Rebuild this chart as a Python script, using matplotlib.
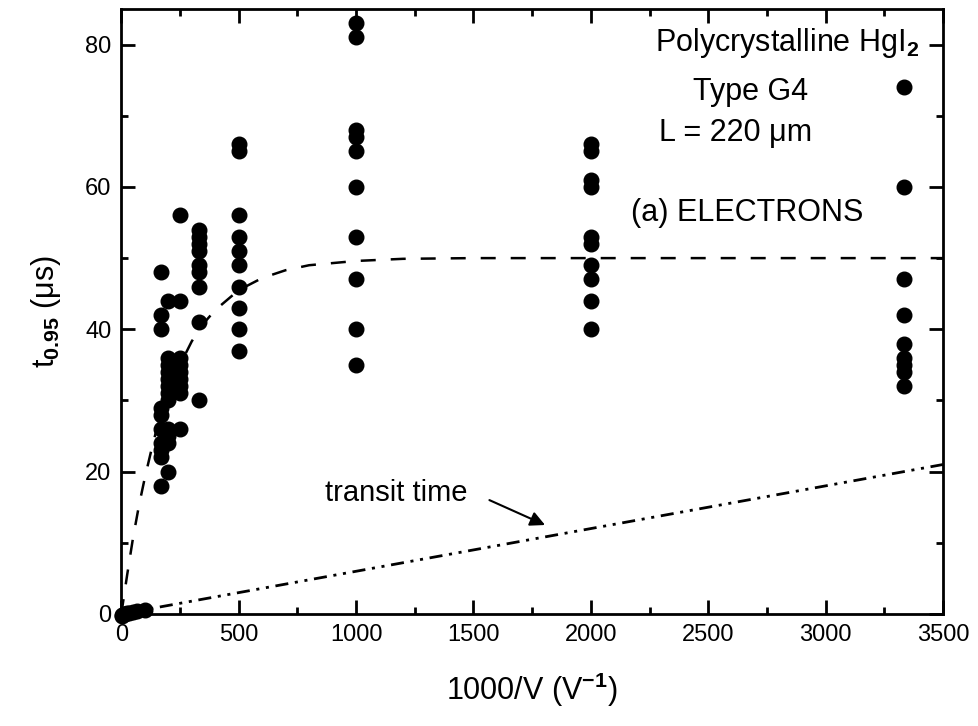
import numpy as np
import matplotlib
matplotlib.use('Agg')
import matplotlib.pyplot as plt
from matplotlib.ticker import MultipleLocator

plt.rcParams['font.family'] = ['Liberation Sans', 'DejaVu Sans']
plt.rcParams['mathtext.fontset'] = 'custom'
plt.rcParams['mathtext.rm'] = 'Liberation Sans'
plt.rcParams['mathtext.bf'] = 'Liberation Sans:bold'
plt.rcParams['mathtext.it'] = 'Liberation Sans:italic'

# measured points, grouped by 1000/V column
x_origin = [2, 5, 10, 17, 25, 33, 50, 67, 100]
t_origin = [-0.3, -0.2, 0, 0, 0.1, 0.2, 0.3, 0.4, 0.5]
x_167 = 167
t_167 = [48, 42, 40, 29, 28, 26, 24, 23, 22, 18]
x_200 = 200
t_200 = [44, 36, 35, 34, 33, 32, 31, 30, 26, 25, 24, 20]
x_250 = 250
t_250 = [56, 44, 36, 35, 34, 33, 32, 31, 26]
x_333 = 333
t_333 = [54, 53, 52, 51, 49, 48, 46, 41, 30]
x_500 = 500
t_500 = [66, 65, 56, 53, 51, 49, 46, 43, 40, 37]
x_1000 = 1000
t_1000 = [83, 81, 68, 67, 65, 60, 53, 47, 40, 35]
x_2000 = 2000
t_2000 = [66, 65, 61, 60, 53, 52, 49, 47, 44, 40]
x_3333 = 3333
t_3333 = [74, 60, 47, 42, 38, 36, 35, 34, 32]

# dashed guide curve
fit_x = [0, 25, 50, 75, 100, 125, 150, 200, 250, 300, 350, 400, 500, 600,
         700, 800, 1000, 1200, 1500, 2000, 3500]
fit_y = [0, 5.5, 10.7, 15.2, 19.1, 22.6, 25.9, 31, 35, 38.3, 40.8, 42.7,
         45.5, 47.2, 48.3, 49, 49.6, 49.9, 50, 50, 50]

# transit time line
transit_x = [0, 3500]
transit_y = [0, 21]

fig = plt.figure(figsize=(9.79, 7.26), dpi=100)
ax = fig.add_axes([0.1239, 0.1543, 0.8393, 0.8333])

groups = [(x_167, t_167), (x_200, t_200), (x_250, t_250), (x_333, t_333),
          (x_500, t_500), (x_1000, t_1000), (x_2000, t_2000), (x_3333, t_3333)]
ax.plot(x_origin, t_origin, 'o', color='k', ms=10.5, clip_on=False, zorder=3)
for xv, tv in groups:
    ax.plot([xv] * len(tv), tv, 'o', color='k', ms=10.5, clip_on=False, zorder=3)

ax.plot(fit_x, fit_y, color='k', lw=1.8, dashes=(6, 6), zorder=2)
ax.plot(transit_x, transit_y, color='k', lw=2,
        dashes=(4.7, 2.4, 1.1, 2.4, 1.1, 2.4), zorder=2)

ax.set_xlim(0, 3500)
ax.set_ylim(0, 85)
ax.xaxis.set_major_locator(MultipleLocator(500))
ax.xaxis.set_minor_locator(MultipleLocator(250))
ax.yaxis.set_major_locator(MultipleLocator(20))
ax.yaxis.set_minor_locator(MultipleLocator(10))
ax.tick_params(which='both', direction='in', top=True, right=True, width=2,
               labelsize=17, pad=7)
ax.tick_params(which='major', length=10)
ax.tick_params(which='minor', length=5)
for s in ax.spines.values():
    s.set_linewidth(2)

ax.set_xlabel(r'1000/V (V$^{\mathbf{-1}}$)', fontsize=22, labelpad=18)
ax.set_ylabel(r'$\mathregular{t}_{\mathbf{0.95}}$ (μs)', fontsize=22, labelpad=16)

tr = ax.transAxes
ax.text(0.810, 0.944, r'Polycrystalline HgI$_{\mathbf{2}}$', transform=tr,
        ha='center', va='center', fontsize=22)
ax.text(0.766, 0.863, 'Type G4', transform=tr, ha='center', va='center', fontsize=22)
ax.text(0.748, 0.795, 'L = 220 μm', transform=tr, ha='center', va='center', fontsize=22)
ax.text(0.762, 0.663, '(a) ELECTRONS', transform=tr, ha='center', va='center',
        fontsize=22)

ax.text(1170, 17.0, 'transit time', fontsize=21, ha='center', va='center')
ax.annotate('', xy=(1805, 12.5), xytext=(1568, 16.0),
            arrowprops=dict(arrowstyle='-|>', color='k', lw=1.5,
                            mutation_scale=22, shrinkA=0, shrinkB=0))

fig.savefig('out.png', dpi=100)
